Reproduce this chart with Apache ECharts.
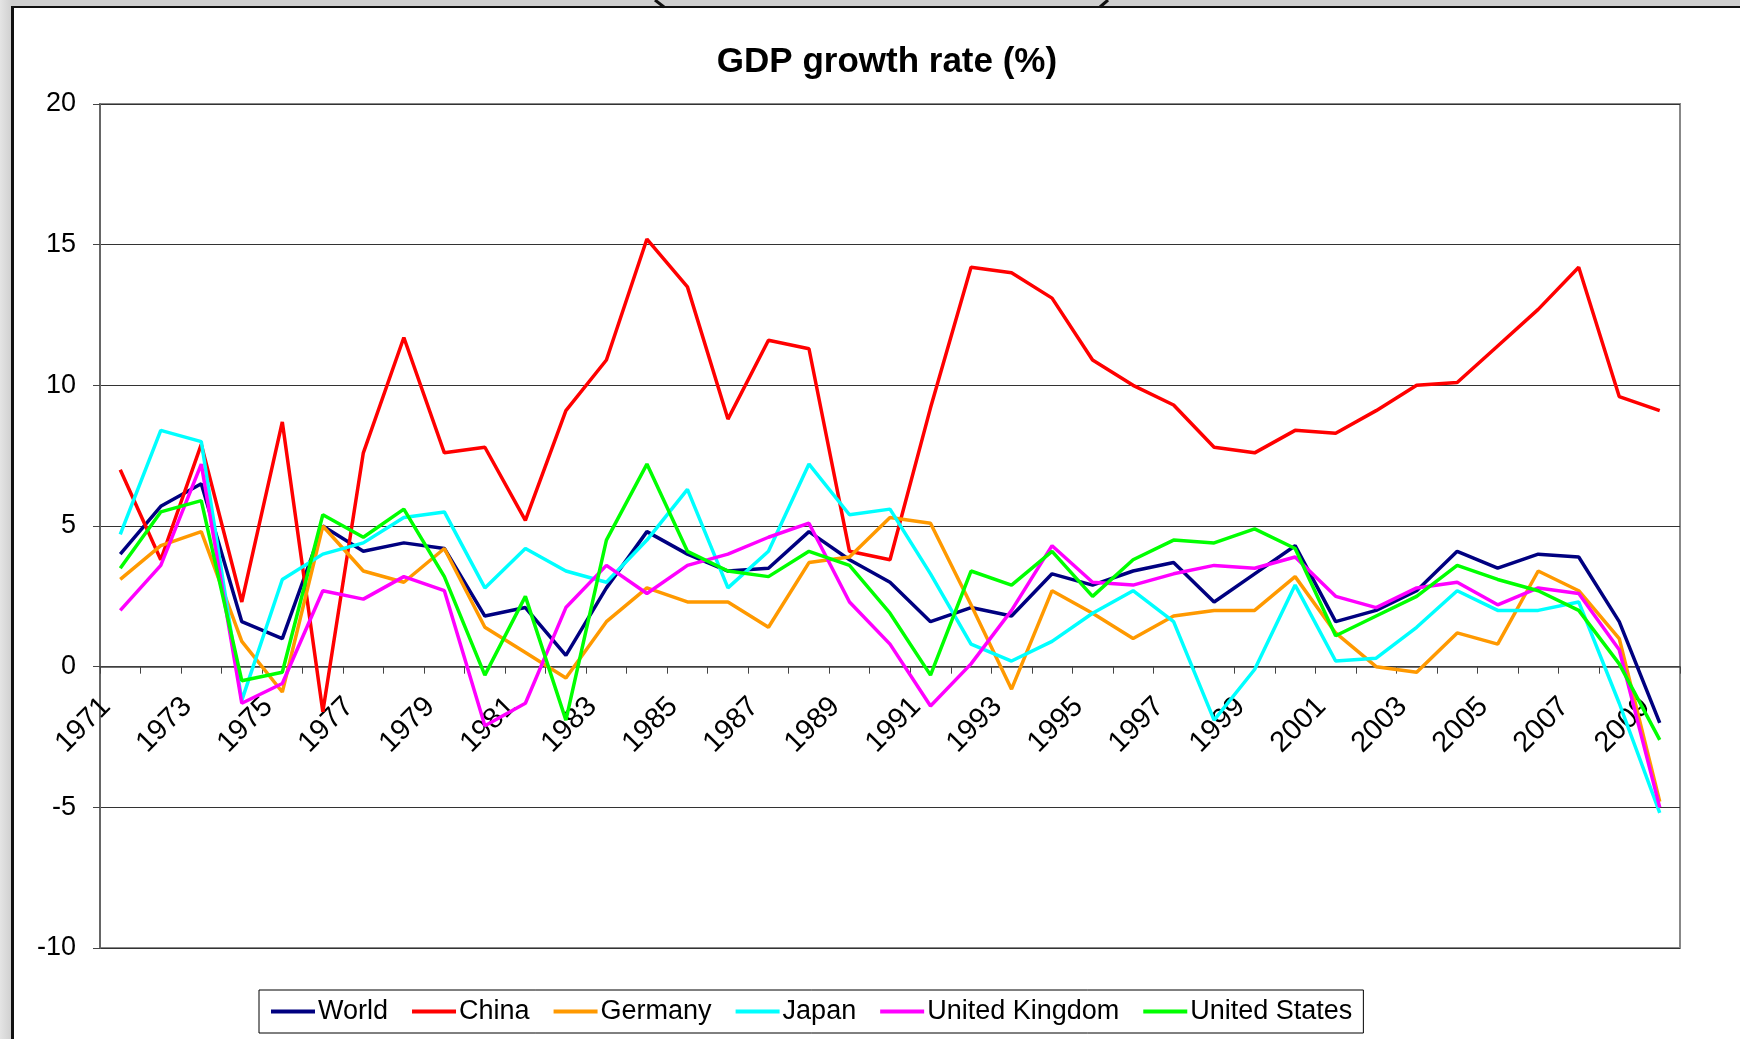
<!DOCTYPE html>
<html>
<head>
<meta charset="utf-8">
<title>GDP growth rate (%)</title>
<script src="https://cdn.jsdelivr.net/npm/echarts@6/dist/echarts.min.js"></script>
<style>
  html, body { margin: 0; padding: 0; }
  body {
    width: 1740px;
    height: 1039px;
    background: linear-gradient(to right, #e4e4e4, #cfcfcf 12px);
    position: relative;
    overflow: hidden;
  }
  #frame {
    position: absolute;
    left: 11px;
    top: 6px;
    width: 1740px;
    height: 1040px;
    background: #fff;
    border-top: 2px solid #111;
    border-left: 3px solid #111;
  }
  #chart {
    position: absolute;
    left: 0;
    top: 0;
    width: 1740px;
    height: 1039px;
  }
</style>
</head>
<body>
<div id="frame"></div>
<div id="chart"></div>
<script>
// years on the category axis
const years = [];
for (let y = 1971; y <= 2009; y++) years.push(String(y));

// GDP growth, %
const world = [4.0, 5.7, 6.5, 1.6, 1.0, 5.0, 4.1, 4.4, 4.2, 1.8,
  2.1, 0.4, 2.8, 4.8, 4.0, 3.4, 3.5, 4.8, 3.8, 3.0,
  1.6, 2.1, 1.8, 3.3, 2.9, 3.4, 3.7, 2.3, 3.3, 4.3,
  1.6, 2.0, 2.7, 4.1, 3.5, 4.0, 3.9, 1.6, -2.0];
const china = [7.0, 3.8, 7.9, 2.3, 8.7, -1.6, 7.6, 11.7, 7.6, 7.8,
  5.2, 9.1, 10.9, 15.2, 13.5, 8.8, 11.6, 11.3, 4.1, 3.8,
  9.2, 14.2, 14.0, 13.1, 10.9, 10.0, 9.3, 7.8, 7.6, 8.4,
  8.3, 9.1, 10.0, 10.1, 11.4, 12.7, 14.2, 9.6, 9.1];
const germany = [3.1, 4.3, 4.8, 0.9, -0.9, 5.0, 3.4, 3.0, 4.2, 1.4,
  0.5, -0.4, 1.6, 2.8, 2.3, 2.3, 1.4, 3.7, 3.9, 5.3,
  5.1, 2.2, -0.8, 2.7, 1.9, 1.0, 1.8, 2.0, 2.0, 3.2,
  1.2, 0.0, -0.2, 1.2, 0.8, 3.4, 2.7, 1.0, -4.8];
const japan = [4.7, 8.4, 8.0, -1.2, 3.1, 4.0, 4.4, 5.3, 5.5, 2.8,
  4.2, 3.4, 3.0, 4.5, 6.3, 2.8, 4.1, 7.2, 5.4, 5.6,
  3.3, 0.8, 0.2, 0.9, 1.9, 2.7, 1.6, -1.9, -0.1, 2.9,
  0.2, 0.3, 1.4, 2.7, 2.0, 2.0, 2.3, -1.3, -5.2];
const uk = [2.0, 3.6, 7.2, -1.3, -0.6, 2.7, 2.4, 3.2, 2.7, -2.1,
  -1.3, 2.1, 3.6, 2.6, 3.6, 4.0, 4.6, 5.1, 2.3, 0.8,
  -1.4, 0.1, 2.0, 4.3, 3.0, 2.9, 3.3, 3.6, 3.5, 3.9,
  2.5, 2.1, 2.8, 3.0, 2.2, 2.8, 2.6, 0.6, -5.0];
const us = [3.5, 5.5, 5.9, -0.5, -0.2, 5.4, 4.6, 5.6, 3.2, -0.3,
  2.5, -1.9, 4.5, 7.2, 4.1, 3.4, 3.2, 4.1, 3.6, 1.9,
  -0.3, 3.4, 2.9, 4.1, 2.5, 3.8, 4.5, 4.4, 4.9, 4.2,
  1.1, 1.8, 2.5, 3.6, 3.1, 2.7, 2.0, 0.1, -2.6];

const seriesNames = ["World", "China", "Germany", "Japan", "United Kingdom", "United States"];
const seriesColors = ["#000080", "#ff0000", "#ff9900", "#00ffff", "#ff00ff", "#00ff00"];
const seriesData = [world, china, germany, japan, uk, us];

const chart = echarts.init(document.getElementById("chart"));

const option = {
  animation: false,
  backgroundColor: "transparent",
  textStyle: { fontFamily: "Liberation Sans, Arial, sans-serif" },
  title: {
    text: "GDP growth rate (%)",
    left: 882,
    top: 40,
    textAlign: "center",
    textStyle: { fontSize: 35, fontWeight: "bold", color: "#000", fontFamily: "Liberation Sans" }
  },
  grid: {
    left: 100,
    right: 60,
    top: 104,
    bottom: 91,
    show: true,
    borderColor: "#888",
    borderWidth: 2,
    backgroundColor: "#fff"
  },
  legend: {
    left: 259,
    top: 990,
    data: seriesNames,
    icon: "rect",
    itemWidth: 44,
    itemHeight: 4,
    itemGap: 24,
    padding: [8, 11, 8, 12],
    borderColor: "#000",
    borderWidth: 1,
    backgroundColor: "#fff",
    textStyle: { fontSize: 27, color: "#000", padding: [0, 0, 0, -2] }
  },
  xAxis: [
    {
      // axis line and ticks sitting on y = 0
      type: "category",
      data: years,
      boundaryGap: true,
      axisLine: { onZero: true, lineStyle: { color: "#444", width: 1.5 } },
      axisTick: { show: true, interval: 0, length: 7, lineStyle: { color: "#444" } },
      axisLabel: { show: false },
      splitLine: { show: false }
    },
    {
      // year labels just under the zero line
      type: "category",
      data: years,
      position: "bottom",
      boundaryGap: true,
      offset: -282,
      axisLine: { show: false, onZero: false },
      axisTick: { show: false },
      axisLabel: {
        interval: 1,
        rotate: 45,
        margin: 22,
        padding: [0, 20, 0, 0],
        fontSize: 29,
        color: "#000"
      },
      splitLine: { show: false }
    }
  ],
  yAxis: {
    type: "value",
    min: -10,
    max: 20,
    interval: 5,
    axisLine: { show: true, lineStyle: { color: "#666", width: 2 } },
    axisTick: { show: true, length: 7, lineStyle: { color: "#444" } },
    axisLabel: { fontSize: 27, color: "#000", margin: 24 },
    splitLine: { show: true, lineStyle: { color: "#333", width: 1 } }
  },
  series: seriesNames.map((name, i) => ({
    name: name,
    type: "line",
    xAxisIndex: 0,
    data: seriesData[i],
    color: seriesColors[i],
    showSymbol: false,
    symbol: "none",
    lineStyle: { width: 3.5, color: seriesColors[i] },
    z: 3 + i
  })),
  graphic: [
    { type: "line", shape: { x1: 655, y1: 0, x2: 664, y2: 7 }, style: { stroke: "#111", lineWidth: 3 } },
    { type: "line", shape: { x1: 1108, y1: 0, x2: 1100, y2: 7 }, style: { stroke: "#111", lineWidth: 3 } }
  ]
};

chart.setOption(option);
</script>
</body>
</html>
